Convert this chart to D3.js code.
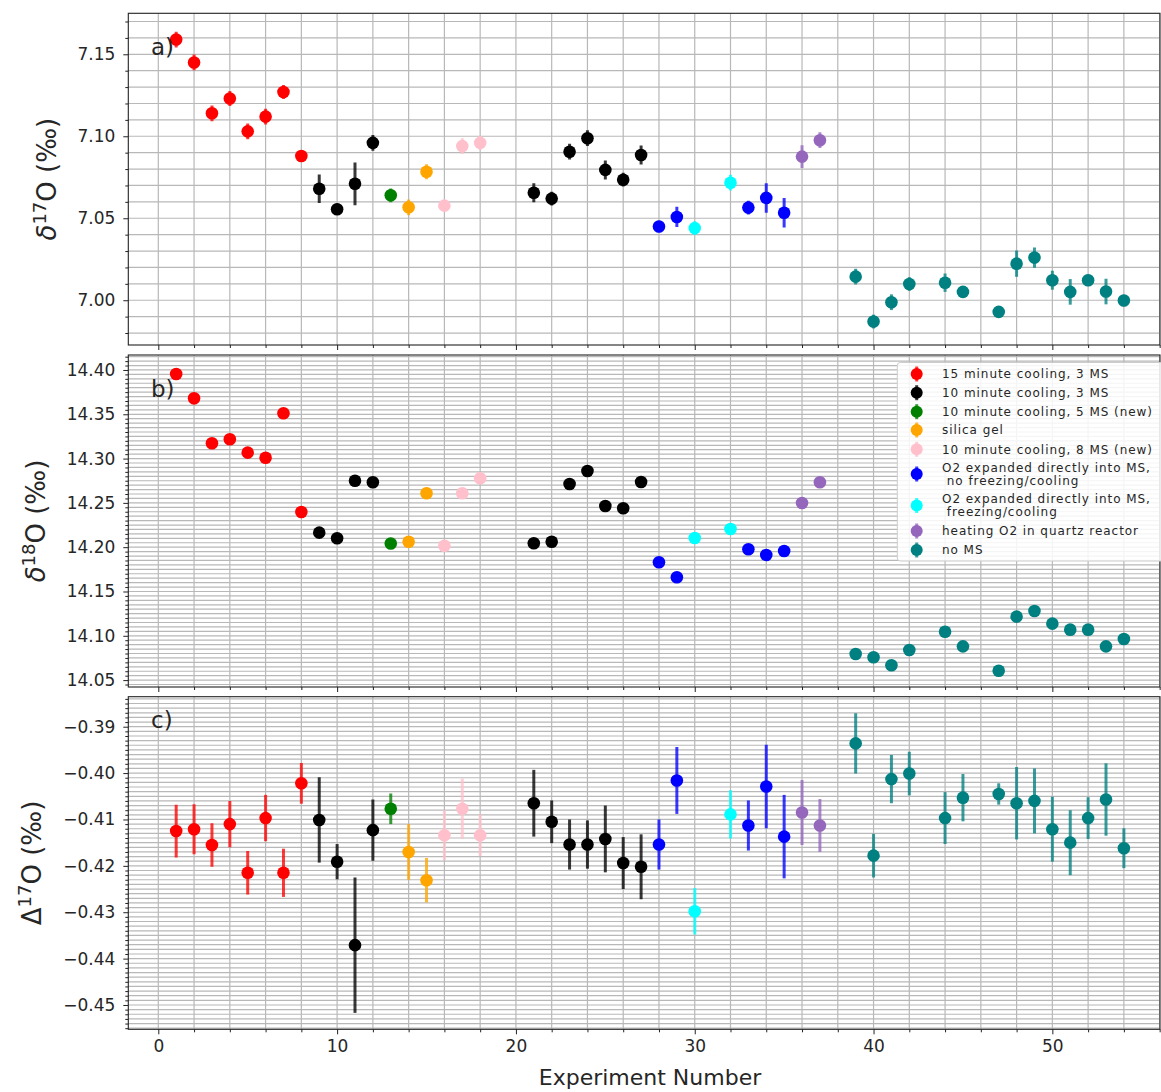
<!DOCTYPE html>
<html>
<head>
<meta charset="utf-8">
<script src="https://cdn.jsdelivr.net/npm/d3@7"></script>
<style>
  body { margin: 0; background: #fff; }
  svg { display: block; font-family: "DejaVu Sans", sans-serif; }
</style>
</head>
<body>
<svg id="chart" width="1161" height="1092"></svg>
<script>
// ---- data -------------------------------------------------------------
const experiments = [
  1, 2, 3, 4, 5, 6, 7, 8, 9, 10, 11, 12, 13, 14, 15, 16, 17, 18,
  21, 22, 23, 24, 25, 26, 27, 28, 29, 30,
  32, 33, 34, 35, 36, 37,
  39, 40, 41, 42, 44, 45, 47, 48, 49, 50, 51, 52, 53, 54
];

// treatment group index of each experiment (see groupLabels)
const groupOf = [
  0, 0, 0, 0, 0, 0, 0, 0, 1, 1, 1, 1, 2, 3, 3, 4, 4, 4,
  1, 1, 1, 1, 1, 1, 1, 5, 5, 6,
  6, 5, 5, 5, 7, 7,
  8, 8, 8, 8, 8, 8, 8, 8, 8, 8, 8, 8, 8, 8
];

const groupLabels = [
  ["15 minute cooling, 3 MS"],
  ["10 minute cooling, 3 MS"],
  ["10 minute cooling, 5 MS (new)"],
  ["silica gel"],
  ["10 minute cooling, 8 MS (new)"],
  ["O2 expanded directly into MS,", " no freezing/cooling"],
  ["O2 expanded directly into MS,", " freezing/cooling"],
  ["heating O2 in quartz reactor"],
  ["no MS"]
];

const groupColors = [
  "#ff0000", "#000000", "#008000", "#ffa500", "#ffc0cb",
  "#0000ff", "#00ffff", "#9467bd", "#008080"
];

// δ17O (‰) and 1σ
const d17 = [
  7.159, 7.145, 7.114, 7.123, 7.103, 7.112, 7.127, 7.088, 7.068, 7.0555, 7.071, 7.096, 7.064, 7.0567, 7.0784, 7.0577, 7.094, 7.096,
  7.0656, 7.062, 7.0906, 7.0988, 7.0795, 7.0735, 7.0886, 7.045, 7.0508, 7.044,
  7.0717, 7.0565, 7.0624, 7.0534, 7.0876, 7.0976,
  7.0144, 6.987, 6.9988, 7.0099, 7.0107, 7.0051, 6.9929, 7.0223, 7.026, 7.0122, 7.0051, 7.0122, 7.0053, 6.9998
];
const d17Err = [
  0.0048, 0.0048, 0.0048, 0.0046, 0.0048, 0.0048, 0.0042, 0.0035, 0.0087, 0.0035, 0.013, 0.0048, 0.0042, 0.0048, 0.0046, 0.0035, 0.0048, 0.0042,
  0.0058, 0.0042, 0.0048, 0.0048, 0.0058, 0.0042, 0.0058, 0.0035, 0.0062, 0.0042,
  0.0048, 0.0042, 0.009, 0.009, 0.007, 0.0048,
  0.0048, 0.0042, 0.0048, 0.0042, 0.0056, 0.0035, 0.003, 0.008, 0.0062, 0.0058, 0.0078, 0.0035, 0.0078, 0.0035
];

// δ18O (‰)
const d18 = [
  14.3955, 14.368, 14.3173, 14.3218, 14.3067, 14.301, 14.3511, 14.2397, 14.2164, 14.210, 14.275, 14.2732, 14.2042, 14.2062, 14.2608, 14.2017, 14.2608, 14.2778,
  14.2044, 14.2062, 14.2713, 14.286, 14.2465, 14.2439, 14.2736, 14.183, 14.166, 14.2104,
  14.2205, 14.1976, 14.1912, 14.1957, 14.2499, 14.2732,
  14.0795, 14.0757, 14.0667, 14.084, 14.1046, 14.0881, 14.0606, 14.1216, 14.128, 14.1137, 14.1069, 14.1069, 14.0881, 14.0964
];

// Δ17O (‰) and 1σ
const cap17 = [
  -0.4125, -0.4121, -0.4155, -0.411, -0.4215, -0.4097, -0.4215, -0.4022, -0.4101, -0.4191, -0.4371, -0.4123, -0.4077, -0.417, -0.4231, -0.4134, -0.4077, -0.4134,
  -0.4065, -0.4105, -0.4154, -0.4154, -0.4142, -0.4194, -0.4202, -0.4154, -0.4016, -0.4298,
  -0.4089, -0.4113, -0.4029, -0.4137, -0.4085, -0.4113,
  -0.3936, -0.4178, -0.4013, -0.4001, -0.4097, -0.4053, -0.4045, -0.4065, -0.406, -0.4121, -0.415, -0.4097, -0.4057, -0.4162
];
const cap17Err = [
  0.0057, 0.0054, 0.0047, 0.005, 0.0047, 0.005, 0.0052, 0.0044, 0.0092, 0.0038, 0.0146, 0.0066, 0.0033, 0.006, 0.0048, 0.0054, 0.0065, 0.0045,
  0.0072, 0.0046, 0.0054, 0.0052, 0.0072, 0.0056, 0.007, 0.0054, 0.0072, 0.005,
  0.0052, 0.0054, 0.009, 0.009, 0.007, 0.0057,
  0.0065, 0.0047, 0.0052, 0.0047, 0.0056, 0.0051, 0.0023, 0.0078, 0.007, 0.007, 0.007, 0.0045, 0.0078, 0.0043
];

const xMajorTicks = [0, 10, 20, 30, 40, 50];
const d17Ticks = [7.00, 7.05, 7.10, 7.15];
const d18Ticks = [14.05, 14.10, 14.15, 14.20, 14.25, 14.30, 14.35, 14.40];
const cap17Ticks = [-0.45, -0.44, -0.43, -0.42, -0.41, -0.40, -0.39];

// ---- layout -------------------------------------------------------------
const svg = d3.select("#chart");
const left = 128.3, right = 1160;
const textColor = "#262626";
const gridColor = "#b8b8b8";

const x = d3.scaleLinear().domain([-1.678, 56.02]).range([left, right]);

const panels = [
  { top: 13.3, bottom: 345, domain: [6.9727, 7.175], ticks: d17Ticks, minor: 0.01,
    values: d17, errors: d17Err, letter: "a)", letterY: 55, labelX: 47,
    label: [["δ", "italic", 0], ["17", "sup", 0], ["O (‰)", "", 0]] },
  { top: 355, bottom: 687, domain: [14.0422, 14.4169], ticks: d18Ticks, minor: 0.005,
    values: d18, errors: null, letter: "b)", letterY: 397, labelX: 36,
    label: [["δ", "italic", 0], ["18", "sup", 0], ["O (‰)", "", 0]] },
  { top: 696.7, bottom: 1029.3, domain: [-0.45524, -0.38353], ticks: cap17Ticks, minor: 0.001,
    values: cap17, errors: cap17Err, letter: "c)", letterY: 728, labelX: 32,
    label: [["Δ", "", 0], ["17", "sup", 0], ["O (‰)", "", 0]] }
];

function stepValues(lo, hi, step) {
  const out = [];
  for (let k = Math.ceil(lo / step - 1e-9); k <= Math.floor(hi / step + 1e-9); k++) out.push(+(k * step).toFixed(6));
  return out;
}

const xGrid = stepValues(x.domain()[0], x.domain()[1], 2);

panels.forEach((p, pi) => {
  const y = d3.scaleLinear().domain(p.domain).range([p.bottom, p.top]);
  const g = svg.append("g");
  const clipId = "clip" + pi;
  svg.append("clipPath").attr("id", clipId)
    .append("rect").attr("x", left).attr("y", p.top).attr("width", right - left).attr("height", p.bottom - p.top);

  // grid
  const grid = g.append("g").attr("clip-path", `url(#${clipId})`);
  const yGrid = stepValues(p.domain[0], p.domain[1], p.minor);
  grid.selectAll("line.h").data(yGrid).join("line")
    .attr("x1", left).attr("x2", right)
    .attr("y1", d => y(d)).attr("y2", d => y(d))
    .attr("stroke", gridColor).attr("stroke-width", 1.2);
  grid.selectAll("line.v").data(xGrid).join("line")
    .attr("y1", p.top).attr("y2", p.bottom)
    .attr("x1", d => x(d)).attr("x2", d => x(d))
    .attr("stroke", gridColor).attr("stroke-width", 1.2);

  // y axis: major ticks with labels, minor ticks
  const yAxis = d3.axisLeft(y).tickValues(p.ticks).tickSize(5).tickPadding(8)
    .tickFormat(d => d3.format(".2f")(d).replace("-", "\u2212"));
  const ya = g.append("g").attr("transform", `translate(${left},0)`).call(yAxis);
  ya.select(".domain").remove();
  ya.selectAll("text").attr("font-size", 17).attr("fill", textColor).attr("font-family", "DejaVu Sans");
  ya.selectAll("line").attr("stroke", "#222");
  const yMinor = d3.axisLeft(y).tickValues(yGrid.filter(v => !p.ticks.some(t => Math.abs(t - v) < 1e-7))).tickSize(3).tickFormat("");
  const ym = g.append("g").attr("transform", `translate(${left},0)`).call(yMinor);
  ym.select(".domain").remove();
  ym.selectAll("line").attr("stroke", "#222");

  // x axis ticks along the bottom of each panel
  const xAxis = d3.axisBottom(x).tickValues(xMajorTicks).tickSize(5).tickPadding(6)
    .tickFormat(pi === 2 ? d3.format("d") : "");
  const xa = g.append("g").attr("transform", `translate(0,${p.bottom})`).call(xAxis);
  xa.select(".domain").remove();
  xa.selectAll("text").attr("font-size", 17).attr("fill", textColor).attr("font-family", "DejaVu Sans");
  xa.selectAll("line").attr("stroke", "#222");
  const xMinor = d3.axisBottom(x).tickValues(xGrid.filter(v => v % 10 !== 0)).tickSize(3).tickFormat("");
  const xm = g.append("g").attr("transform", `translate(0,${p.bottom})`).call(xMinor);
  xm.select(".domain").remove();
  xm.selectAll("line").attr("stroke", "#222");

  // points with error bars, one group at a time
  const pts = experiments.map((e, i) => ({ e, g: groupOf[i], v: p.values[i], s: p.errors ? p.errors[i] : 0 }));
  const marks = g.append("g").attr("clip-path", `url(#${clipId})`);
  groupColors.forEach((c, gi) => {
    const sub = pts.filter(d => d.g === gi);
    if (p.errors) {
      marks.selectAll(null).data(sub).join("line")
        .attr("x1", d => x(d.e)).attr("x2", d => x(d.e))
        .attr("y1", d => y(d.v - d.s)).attr("y2", d => y(d.v + d.s))
        .attr("stroke", c).attr("stroke-opacity", 0.78).attr("stroke-width", 3);
    }
    marks.selectAll(null).data(sub).join("circle")
      .attr("cx", d => x(d.e)).attr("cy", d => y(d.v)).attr("r", 6.3)
      .attr("fill", c);
  });

  // frame
  g.append("rect").attr("x", left).attr("y", p.top).attr("width", right - left).attr("height", p.bottom - p.top)
    .attr("fill", "none").attr("stroke", "#222").attr("stroke-width", 1.1);

  // panel letter
  g.append("text").attr("x", 151).attr("y", p.letterY).attr("font-size", 23)
    .attr("fill", textColor).text(p.letter);

  // y label
  const cy = (p.top + p.bottom) / 2;
  const lab = g.append("text")
    .attr("transform", `translate(${p.labelX},${cy}) rotate(-90)`)
    .attr("text-anchor", "middle").attr("dy", "0.36em")
    .attr("font-size", 26).attr("fill", textColor);
  lab.append("tspan").attr("font-style", p.label[0][1] === "italic" ? "italic" : "normal").text(p.label[0][0]);
  lab.append("tspan").attr("font-size", 18).attr("dy", -10).text(p.label[1][0]);
  lab.append("tspan").attr("dy", 10).text(p.label[2][0]);
});

// x axis title
svg.append("text").attr("x", 650).attr("y", 1085).attr("text-anchor", "middle")
  .attr("font-size", 22).attr("fill", textColor).text("Experiment Number");

// ---- legend ---------------------------------------------------------------
const legend = svg.append("g");
legend.append("rect").attr("x", 897.3).attr("y", 362.5).attr("width", 270).attr("height", 198.5)
  .attr("rx", 3).attr("fill", "#fff").attr("fill-opacity", 0.85)
  .attr("stroke", "#cccccc").attr("stroke-width", 1);

const legendRows = [374, 392.7, 411.7, 430, 449.3, 474, 505.5, 531, 550];
groupLabels.forEach((lines, gi) => {
  const cy = legendRows[gi];
  const c = groupColors[gi];
  legend.append("line").attr("x1", 916.7).attr("x2", 916.7).attr("y1", cy - 7.5).attr("y2", cy + 7.5)
    .attr("stroke", c).attr("stroke-opacity", 0.78).attr("stroke-width", 3);
  legend.append("circle").attr("cx", 916.7).attr("cy", cy).attr("r", 6).attr("fill", c);
  const t = legend.append("text").attr("x", 942).attr("font-size", 12)
    .attr("letter-spacing", "0.95px").attr("fill", textColor)
    .attr("xml:space", "preserve").style("white-space", "pre");
  const first = cy - (lines.length - 1) * 6.4;
  lines.forEach((ln, li) => {
    t.append("tspan").attr("x", 942).attr("y", first + li * 12.8 + 4.3).text(ln);
  });
});
</script>
</body>
</html>
